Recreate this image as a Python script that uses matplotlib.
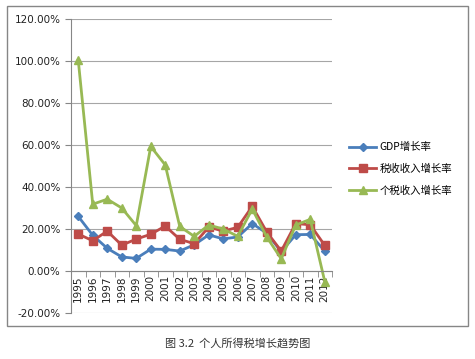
import numpy as np
import matplotlib
matplotlib.use('Agg')
import matplotlib.pyplot as plt
from matplotlib.patches import Rectangle
from matplotlib.ticker import FuncFormatter

plt.rcParams['font.family'] = ['Noto Sans CJK SC', 'DejaVu Sans']

years = [str(y) for y in range(1995, 2013)]
gdp = [26.0, 17.0, 10.8, 6.7, 6.0, 10.4, 10.3, 9.5, 12.5, 17.2, 15.3, 16.2, 22.6, 18.0, 9.2, 17.3, 17.4, 9.5]
tax = [17.6, 14.4, 19.0, 12.3, 15.2, 17.5, 21.4, 15.1, 13.0, 20.9, 19.0, 20.8, 30.8, 18.6, 9.5, 22.6, 22.0, 12.2]
iit = [100.4, 31.8, 34.2, 30.0, 21.6, 59.3, 50.5, 21.2, 16.5, 21.9, 20.0, 16.5, 29.5, 16.2, 5.8, 21.9, 24.6, -5.0]
names = ['GDP增长率', '税收收入增长率', '个税收入增长率']

fig = plt.figure(figsize=(4.75, 3.59), dpi=100)
fig.patches.append(Rectangle((7 / 475, 1 - 326 / 359), 461 / 475, 320 / 359,
                             transform=fig.transFigure, fill=False,
                             edgecolor='#868686', linewidth=1))

ax = fig.add_axes([71 / 475, 1 - 313 / 359, 261 / 475, 294 / 359])
x = np.arange(len(years))

ax.plot(x, np.array(gdp) / 100, color='#4A7EBB', lw=2, marker='D', ms=4.5, label=names[0])
ax.plot(x, np.array(tax) / 100, color='#BE4B48', lw=2, marker='s', ms=5.5, label=names[1])
ax.plot(x, np.array(iit) / 100, color='#98B954', lw=2, marker='^', ms=5.5, label=names[2])

ax.set_xlim(-0.5, len(years) - 0.5)
ax.set_ylim(-0.2, 1.2)
ax.set_yticks(np.arange(-0.2, 1.21, 0.2))
ax.yaxis.set_major_formatter(FuncFormatter(lambda v, p: '%.2f%%' % (v * 100)))
ax.grid(axis='y', color='#A6A6A6', lw=0.8)
ax.set_axisbelow(True)

for s in ['top', 'right']:
    ax.spines[s].set_visible(False)
ax.spines['left'].set_color('#868686')
ax.spines['bottom'].set_color('#868686')
ax.spines['bottom'].set_position(('data', 0))

ax.set_xticks(x)
ax.set_xticklabels(years, rotation=90, fontsize=7.5, color='#222222', family='DejaVu Sans')
ax.set_xticks(np.arange(-0.5, len(years)), minor=True)
ax.tick_params(axis='x', which='major', length=0, pad=3)
ax.tick_params(axis='x', which='minor', length=4, color='#868686')
ax.tick_params(axis='y', length=4, color='#868686', labelsize=7.5, labelcolor='#222222')
for t in ax.get_yticklabels():
    t.set_family('DejaVu Sans')

ax.legend(loc='center left', bbox_to_anchor=(1.03, 0.49), frameon=False,
          fontsize=7.5, numpoints=1, handlelength=2.6, labelspacing=1.1,
          handletextpad=0.3)

fig.text(0.5, 1 - 343 / 359, '图 3.2  个人所得税增长趋势图', ha='center', va='center',
         fontsize=8, color='#333333')

fig.savefig('out.png', dpi=100)
